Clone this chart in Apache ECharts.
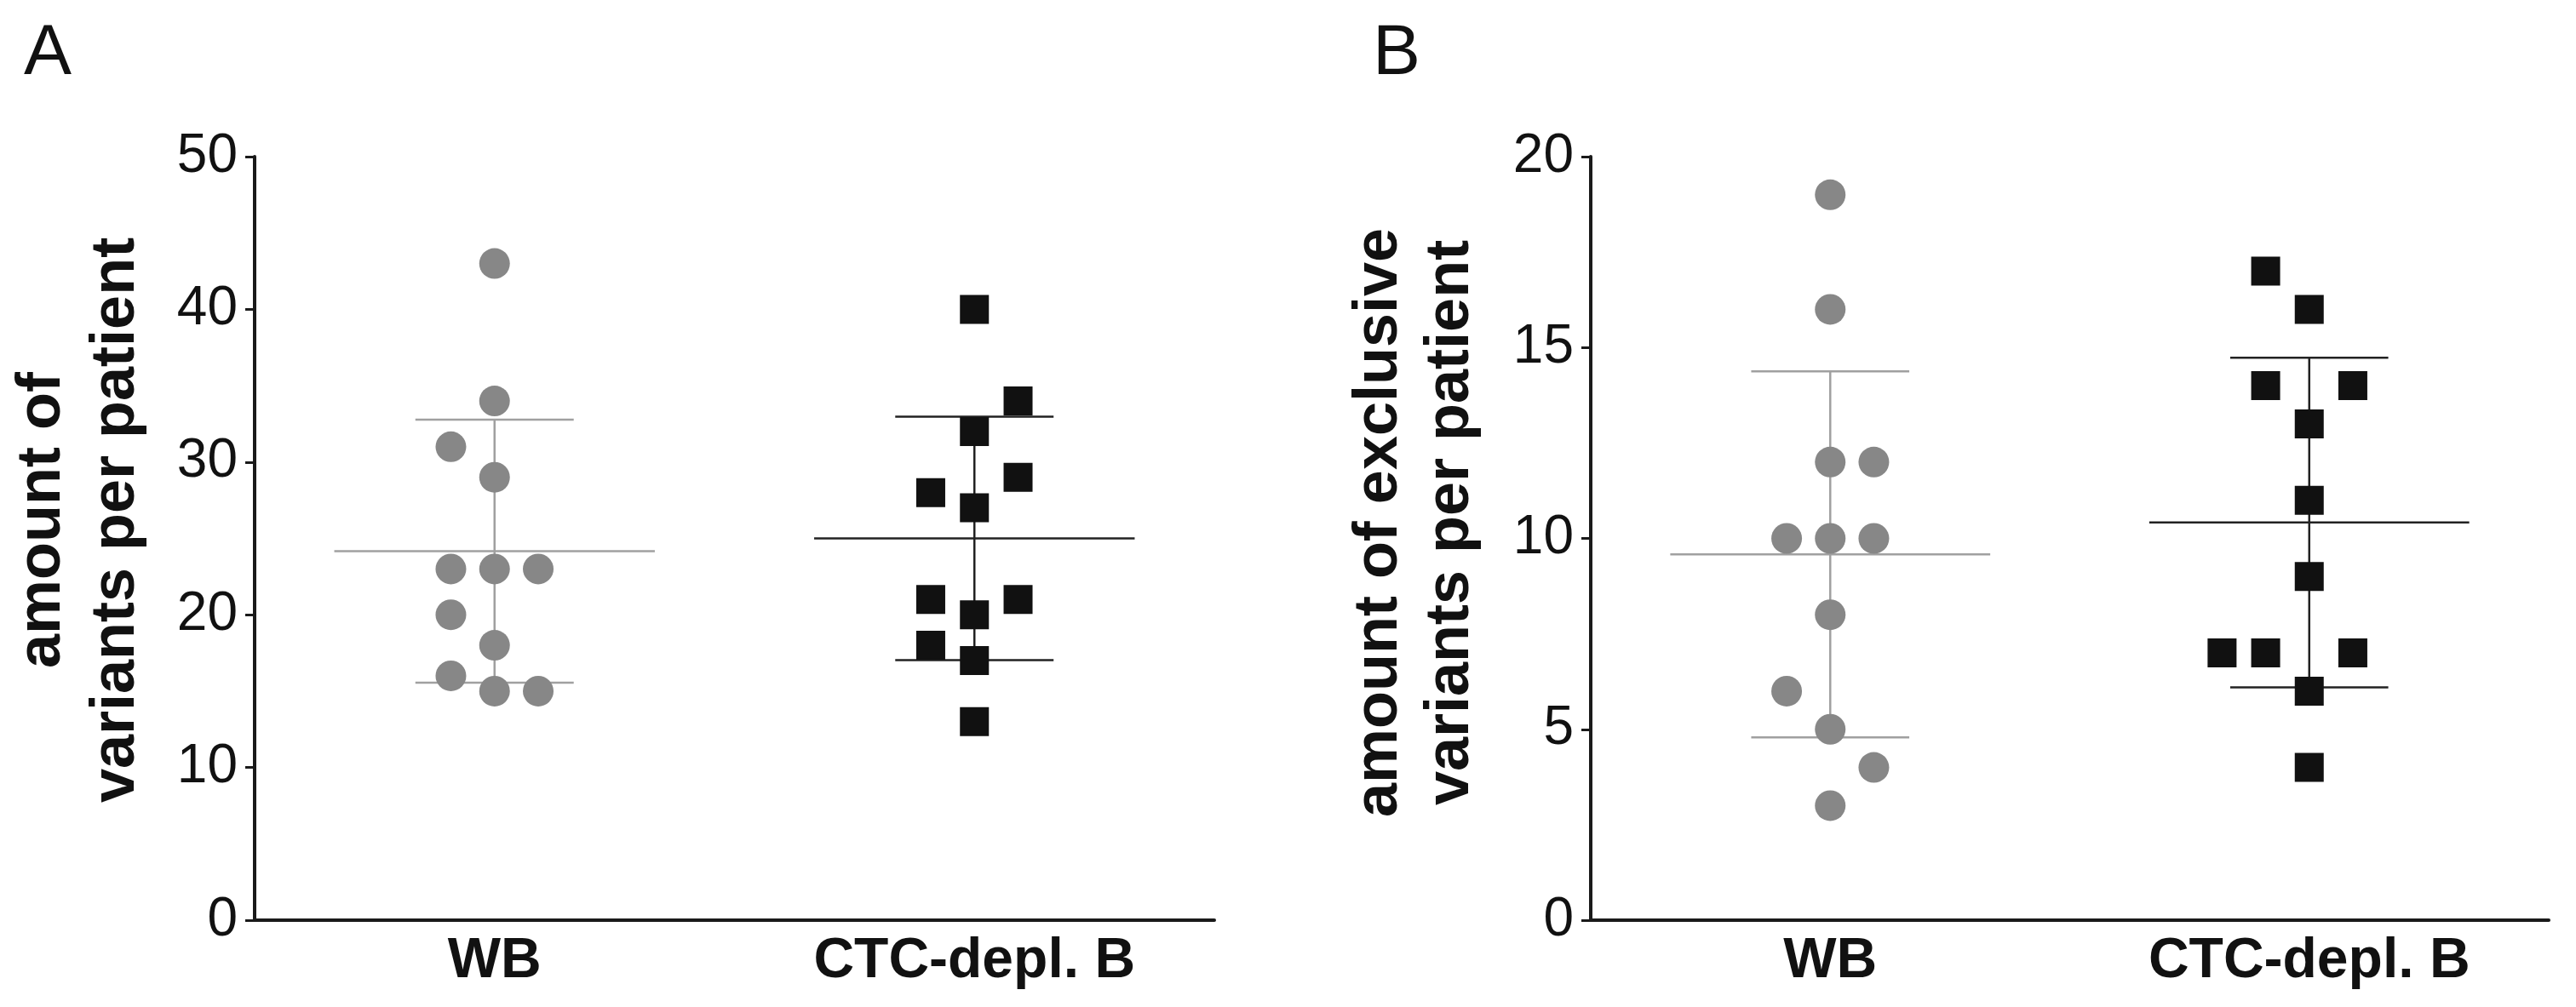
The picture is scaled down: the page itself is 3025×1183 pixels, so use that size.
<!DOCTYPE html>
<html>
<head>
<meta charset="utf-8">
<script src="https://cdn.jsdelivr.net/npm/echarts@6/dist/echarts.min.js"></script>
<style>
  html, body { margin: 0; padding: 0; background: #fff; }
  #chart { width: 3025px; height: 1183px; }
</style>
</head>
<body>
<div id="chart"></div>
<script>
// groups on the x axis
const categories = ['WB', 'CTC-depl. B'];

// panel A: amount of variants per patient
const wbA = [43, 34, 31, 29, 23, 23, 23, 20, 18, 16, 15, 15];
const ctcA = [40, 34, 32, 29, 28, 27, 21, 21, 20, 18, 17, 13];
// column each point sits in (scatter spread)
const wbSlotA = [0, 0, -1, 0, -1, 0, 1, -1, 0, -1, 0, 1];
const ctcSlotA = [0, 1, 0, 1, -1, 0, -1, 1, 0, -1, 0, 0];

// panel B: amount of exclusive variants per patient
const wbB = [19, 16, 12, 12, 10, 10, 10, 8, 6, 5, 4, 3];
const ctcB = [17, 16, 14, 14, 13, 11, 9, 7, 7, 7, 6, 4];
const wbSlotB = [0, 0, 0, 1, -1, 0, 1, 0, -1, 0, 1, 0];
const ctcSlotB = [-1, 0, -1, 1, 0, 0, 0, -2, -1, 1, 0, 0];

// y axis ticks
const yTicksA = {min: 0, max: 50, interval: 10};
const yTicksB = {min: 0, max: 20, interval: 5};

const FONT = "'Liberation Sans', Arial, Helvetica, sans-serif";
const SLOT = 0.091;
const GREY = '#878787';
const GREY_LINE = '#a0a0a0';
const BLACK = '#111111';

function mean(a) {
  return a.reduce((s, v) => s + v, 0) / a.length;
}
function sd(a) {
  const m = mean(a);
  return Math.sqrt(a.reduce((s, v) => s + (v - m) * (v - m), 0) / (a.length - 1));
}
function points(values, slots, idx) {
  return values.map((v, i) => [idx + slots[i] * SLOT, v]);
}

// mean line with +/- SD whiskers
function renderBars(params, api) {
  const x = api.value(0), m = api.value(1), s = api.value(2);
  const c = api.coord([x, m]);
  const hi = api.coord([x, m + s]);
  const lo = api.coord([x, m - s]);
  const unit = api.size([1, 0])[0];
  const style = {stroke: api.visual('color'), lineWidth: 2.5};
  const half = unit * 0.334, cap = unit * 0.165;
  return {
    type: 'group',
    children: [
      {type: 'line', shape: {x1: c[0] - half, y1: c[1], x2: c[0] + half, y2: c[1]}, style: style},
      {type: 'line', shape: {x1: c[0], y1: hi[1], x2: c[0], y2: lo[1]}, style: style},
      {type: 'line', shape: {x1: c[0] - cap, y1: hi[1], x2: c[0] + cap, y2: hi[1]}, style: style},
      {type: 'line', shape: {x1: c[0] - cap, y1: lo[1], x2: c[0] + cap, y2: lo[1]}, style: style}
    ]
  };
}

function catAxis(grid) {
  return {
    gridIndex: grid,
    type: 'category',
    data: categories,
    boundaryGap: true,
    axisLine: {onZero: false, lineStyle: {color: '#1a1a1a', width: 4}},
    axisTick: {alignWithLabel: true, length: 12, lineStyle: {color: '#1a1a1a', width: 3}},
    axisLabel: {fontSize: 66, fontWeight: 'bold', color: '#111', margin: 16, fontFamily: FONT}
  };
}
function hiddenAxis(grid) {
  return {gridIndex: grid, type: 'value', min: -0.5, max: 1.5, show: false};
}
function valAxis(grid, t) {
  return {
    gridIndex: grid,
    type: 'value',
    min: t.min,
    max: t.max,
    interval: t.interval,
    axisLine: {show: true, onZero: false, lineStyle: {color: '#1a1a1a', width: 4}},
    axisTick: {show: true, length: 11, lineStyle: {color: '#1a1a1a', width: 3}},
    splitLine: {show: false},
    axisLabel: {fontSize: 64, color: '#111', margin: 20, fontFamily: FONT}
  };
}
function barSeries(xi, yi, a, b) {
  return {
    type: 'custom',
    xAxisIndex: xi,
    yAxisIndex: yi,
    z: 2,
    renderItem: renderBars,
    data: [
      {value: [0, mean(a), sd(a)], itemStyle: {color: GREY_LINE}},
      {value: [1, mean(b), sd(b)], itemStyle: {color: '#222'}}
    ]
  };
}
function dots(xi, yi, data, symbol, size, color) {
  return {
    type: 'scatter',
    xAxisIndex: xi,
    yAxisIndex: yi,
    z: 3,
    symbol: symbol,
    symbolSize: size,
    itemStyle: {color: color, opacity: 1},
    data: data
  };
}
function label(text, x, y, size, weight, rotate) {
  return {
    type: 'text',
    x: x,
    y: y,
    rotation: rotate ? Math.PI / 2 : 0,
    style: {
      text: text,
      fill: '#111',
      font: weight + ' ' + size + 'px ' + FONT,
      align: 'center',
      verticalAlign: 'middle',
      textAlign: 'center',
      textVerticalAlign: 'middle'
    }
  };
}

let chart = echarts.init(document.getElementById('chart'), null, {renderer: 'canvas'});
let option = {
  backgroundColor: '#fff',
  animation: false,
  textStyle: {fontFamily: FONT},
  grid: [
    {left: 299, right: 1599, top: 184, bottom: 102},
    {left: 1868, right: 32, top: 184, bottom: 102}
  ],
  xAxis: [catAxis(0), catAxis(1), hiddenAxis(0), hiddenAxis(1)],
  yAxis: [valAxis(0, yTicksA), valAxis(1, yTicksB)],
  graphic: [
    label('A', 56, 64, 84, 'normal', false),
    label('B', 1640, 64, 84, 'normal', false),
    label('amount of', 50, 611, 72, 'bold', true),
    label('variants per patient', 137, 611, 72, 'bold', true),
    label('amount of exclusive', 1620, 614, 72, 'bold', true),
    label('variants per patient', 1704, 614, 72, 'bold', true)
  ],
  series: [
    barSeries(2, 0, wbA, ctcA),
    dots(2, 0, points(wbA, wbSlotA, 0), 'circle', 36, GREY),
    dots(2, 0, points(ctcA, ctcSlotA, 1), 'rect', 34, BLACK),
    barSeries(3, 1, wbB, ctcB),
    dots(3, 1, points(wbB, wbSlotB, 0), 'circle', 36, GREY),
    dots(3, 1, points(ctcB, ctcSlotB, 1), 'rect', 34, BLACK)
  ]
};

chart.setOption(option);
window.addEventListener('resize', function () {
  chart.resize();
});
</script>
</body>
</html>
